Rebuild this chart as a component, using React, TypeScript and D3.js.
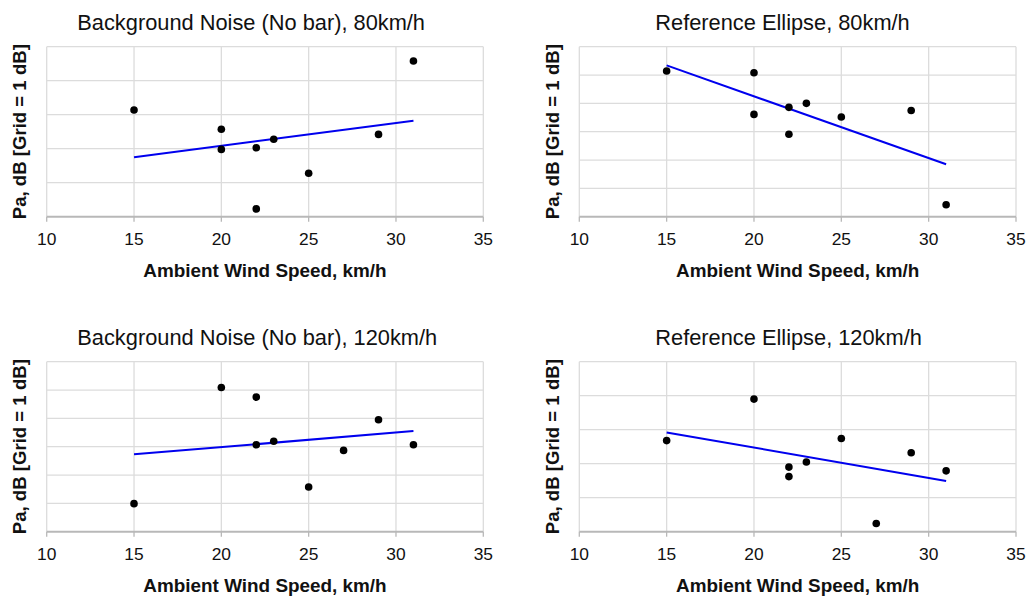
import React from "react";
import * as d3 from "d3";

// ---- Data ----
const windSpeedBG80 = [15, 20, 20, 22, 22, 23, 25, 29, 31];
const paBG80 = [3.14, 2.57, 1.98, 2.03, 0.23, 2.28, 1.28, 2.42, 4.58];
const trendBG80 = [1.75, 2.82]; // at x=15 and x=31

const windSpeedRE80 = [15, 20, 20, 22, 22, 23, 25, 29, 31];
const paRE80 = [5.14, 5.08, 3.61, 3.86, 2.91, 4.0, 3.52, 3.75, 0.42];
const trendRE80 = [5.34, 1.85];

const windSpeedBG120 = [15, 20, 22, 22, 23, 25, 27, 29, 31];
const paBG120 = [0.99, 5.09, 4.75, 3.07, 3.19, 1.58, 2.87, 3.95, 3.07];
const trendBG120 = [2.73, 3.55];

const windSpeedRE120 = [15, 20, 22, 22, 23, 25, 27, 29, 31];
const paRE120 = [2.68, 3.9, 1.9, 1.62, 2.05, 2.74, 0.24, 2.32, 1.79];
const trendRE120 = [2.92, 1.49];

const trendX = [15, 31];
const xTicks = [10, 15, 20, 25, 30, 35];

const titles = [
  "Background Noise (No bar), 80km/h",
  "Reference Ellipse, 80km/h",
  "Background Noise (No bar), 120km/h",
  "Reference Ellipse, 120km/h",
];
const yMaxes = [5, 6, 6, 5];
const xLabel = "Ambient Wind Speed, km/h";
const yLabel = "Pa, dB [Grid = 1 dB]";

const panelsData = [
  { xs: windSpeedBG80, ys: paBG80, trend: trendBG80 },
  { xs: windSpeedRE80, ys: paRE80, trend: trendRE80 },
  { xs: windSpeedBG120, ys: paBG120, trend: trendBG120 },
  { xs: windSpeedRE120, ys: paRE120, trend: trendRE120 },
];

// ---- Layout ----
const layouts = [
  { left: 46.7, right: 483.3, top: 46.7, bottom: 216.7, titleX: 77.3, titleY: 30, yLabX: 26 },
  { left: 579.3, right: 1016, top: 46.7, bottom: 216.7, titleX: 655.3, titleY: 30, yLabX: 559 },
  { left: 46.7, right: 483.3, top: 361.7, bottom: 531.7, titleX: 77.3, titleY: 345, yLabX: 26 },
  { left: 579.3, right: 1016, top: 361.7, bottom: 531.7, titleX: 655.3, titleY: 345, yLabX: 559 },
];

const FONT = "'Liberation Sans', Arial, Helvetica, sans-serif";

function Panel({ i }: { i: number }) {
  const L = layouts[i];
  const D = panelsData[i];
  const x = d3.scaleLinear().domain([10, 35]).range([L.left, L.right]);
  const y = d3.scaleLinear().domain([0, yMaxes[i]]).range([L.bottom, L.top]);
  const yTicks = d3.range(0, yMaxes[i] + 1);
  const line = d3
    .line<number>()
    .x((_, k) => x(trendX[k]))
    .y((v) => y(v));
  const cx = (L.left + L.right) / 2;
  const cy = (L.top + L.bottom) / 2;
  return (
    <g>
      <text x={L.titleX} y={L.titleY} fontSize={21.8} fontFamily={FONT} fill="#111">
        {titles[i]}
      </text>
      {yTicks.slice(1).map((t) => (
        <line key={"h" + t} x1={L.left} x2={L.right} y1={y(t)} y2={y(t)} stroke="#dcdcdc" strokeWidth={1.3} />
      ))}
      {xTicks.map((t) => (
        <line key={"v" + t} x1={x(t)} x2={x(t)} y1={L.top} y2={L.bottom} stroke="#dcdcdc" strokeWidth={1.3} />
      ))}
      <line x1={L.left} x2={L.right} y1={L.bottom} y2={L.bottom} stroke="#b8b8b8" strokeWidth={2} />
      {xTicks.map((t) => (
        <line key={"t" + t} x1={x(t)} x2={x(t)} y1={L.bottom} y2={L.bottom + 5} stroke="#b8b8b8" strokeWidth={1.3} />
      ))}
      {xTicks.map((t) => (
        <text key={"l" + t} x={x(t)} y={L.bottom + 28.5} textAnchor="middle" fontSize={17.4} fontFamily={FONT} fill="#111">
          {t}
        </text>
      ))}
      <text x={cx} y={L.bottom + 60} textAnchor="middle" fontSize={18.9} fontWeight="bold" fontFamily={FONT} fill="#111">
        {xLabel}
      </text>
      <text
        transform={`translate(${L.yLabX},${cy}) rotate(-90)`}
        textAnchor="middle"
        fontSize={18.6}
        fontWeight="bold"
        fontFamily={FONT}
        fill="#111"
      >
        {yLabel}
      </text>
      <path d={line(D.trend) || ""} fill="none" stroke="#0000ee" strokeWidth={2} />
      {D.xs.map((v, k) => (
        <circle key={"p" + k} cx={x(v)} cy={y(D.ys[k])} r={3.8} fill="#000" />
      ))}
    </g>
  );
}

export default function App() {
  return (
    <svg width={1032} height={599} style={{ position: "absolute", left: 0, top: 0, background: "#fff" }}>
      <rect width={1032} height={599} fill="#fff" />
      {[0, 1, 2, 3].map((i) => (
        <Panel key={i} i={i} />
      ))}
    </svg>
  );
}
